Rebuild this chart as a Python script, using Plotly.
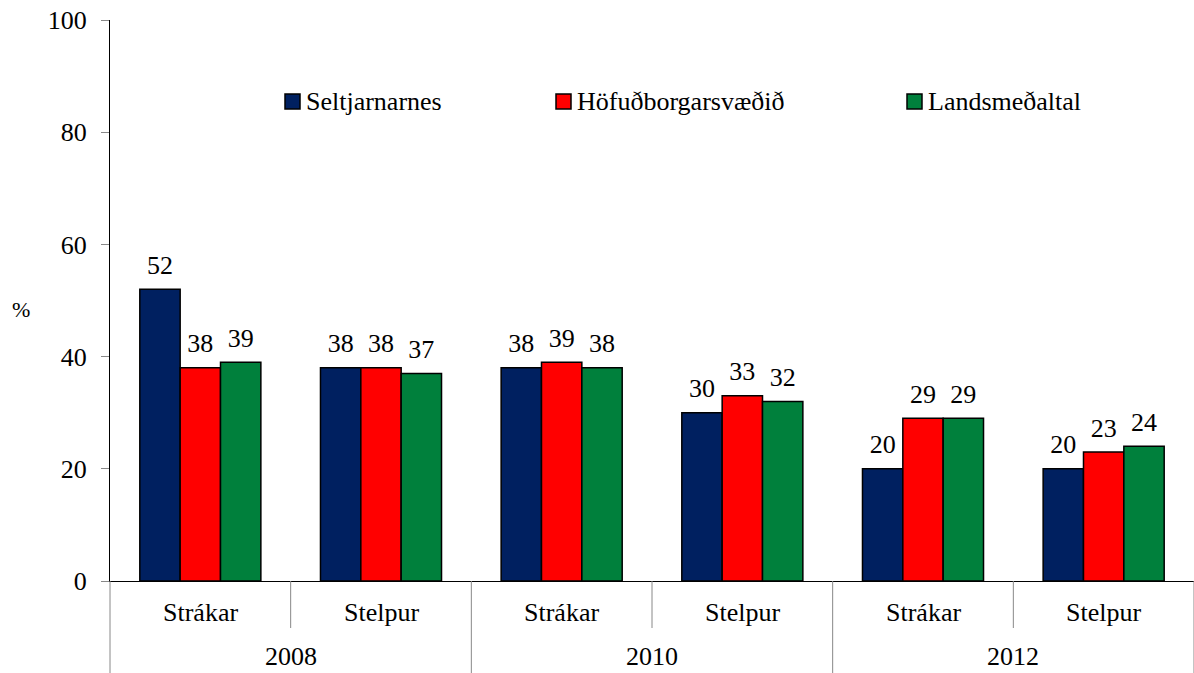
import plotly.graph_objects as go

years = ["2008", "2008", "2010", "2010", "2012", "2012"]
groups = ["Strákar", "Stelpur", "Strákar", "Stelpur", "Strákar", "Stelpur"]

series_names = ["Seltjarnarnes", "Höfuðborgarsvæðið", "Landsmeðaltal"]
seltjarnarnes = [52, 38, 38, 30, 20, 20]
hofudborgarsvaedid = [38, 38, 39, 33, 29, 23]
landsmedaltal = [39, 37, 38, 32, 29, 24]
y_ticks = [0, 20, 40, 60, 80, 100]

colors = ["#002060", "#FF0000", "#00803C"]
FONT = "Times New Roman, Liberation Serif, serif"
FS = 26

# plot-area geometry in pixels
L, R, T, B = 110, 0, 20, 92
W, H = 1194, 673
PW, PH = W - L - R, H - T - B

fig = go.Figure()
for name, vals, col in zip(series_names,
                           [seltjarnarnes, hofudborgarsvaedid, landsmedaltal],
                           colors):
    fig.add_trace(go.Bar(
        x=[years, groups], y=vals, name=name,
        marker=dict(color=col, line=dict(color="black", width=1.5)),
        # a small blank second line lifts the value label off the bar top
        texttemplate=f"<span style='font-size:{FS}px'>%{{y}}</span><br> ",
        textposition="outside", constraintext="none",
        textfont=dict(family=FONT, size=8, color="black"),
        cliponaxis=False, showlegend=False,
    ))


def px_x(p):
    return (p - L) / PW


def px_y(p):
    return (H - B - p) / PH


shapes = []
annotations = []

# dividers below the category axis
n = len(groups)
for i in range(n + 1):
    xb = i / n
    y_end = px_y(H) if i % 2 == 0 else px_y(628)
    shapes.append(dict(type="line", xref="paper", yref="paper",
                       x0=xb, x1=xb, y0=0, y1=y_end,
                       line=dict(color="#888888", width=1)))

# legend row: swatch + label for each series
legend_left = [285, 556, 907]
for name, col, lx in zip(series_names, colors, legend_left):
    shapes.append(dict(type="rect", xref="paper", yref="paper",
                       x0=px_x(lx), x1=px_x(lx + 15), y0=px_y(109), y1=px_y(94),
                       fillcolor=col, line=dict(color="black", width=1.5)))
    annotations.append(dict(text=name, x=px_x(lx + 19), y=px_y(102),
                            xref="paper", yref="paper", xanchor="left",
                            yanchor="middle", showarrow=False,
                            font=dict(family=FONT, size=FS)))

annotations.append(dict(text="%", x=px_x(21), y=px_y(309), xref="paper",
                        yref="paper", xanchor="center", yanchor="middle",
                        showarrow=False, font=dict(family=FONT, size=22)))
for i, g in enumerate(groups):
    annotations.append(dict(text=g, x=(i + 0.5) / n, y=px_y(612), xref="paper",
                            yref="paper", xanchor="center", yanchor="middle",
                            showarrow=False, font=dict(family=FONT, size=FS)))
for j in range(0, n, 2):
    annotations.append(dict(text=years[j], x=(j + 1) / n, y=px_y(656), xref="paper",
                            yref="paper", xanchor="center", yanchor="middle",
                            showarrow=False, font=dict(family=FONT, size=FS)))

fig.update_layout(
    width=W, height=H,
    margin=dict(l=L, r=R, t=T, b=B),
    plot_bgcolor="white", paper_bgcolor="white",
    barmode="group", bargap=0.33, bargroupgap=0,
    showlegend=False,
    font=dict(family=FONT, size=FS, color="black"),
    xaxis=dict(
        type="multicategory", showline=True, linecolor="black", linewidth=1,
        ticks="", showticklabels=False, showdividers=False,
    ),
    yaxis=dict(
        range=[0, 100], tickvals=y_ticks, showgrid=False, zeroline=False,
        showline=True, linecolor="black", linewidth=1,
        ticks="outside", ticklen=8, tickcolor="#888888",
        ticklabelstandoff=9,
        tickfont=dict(family=FONT, size=26, color="black"),
    ),
    shapes=shapes,
    annotations=annotations,
)

fig.write_html("out.html")
